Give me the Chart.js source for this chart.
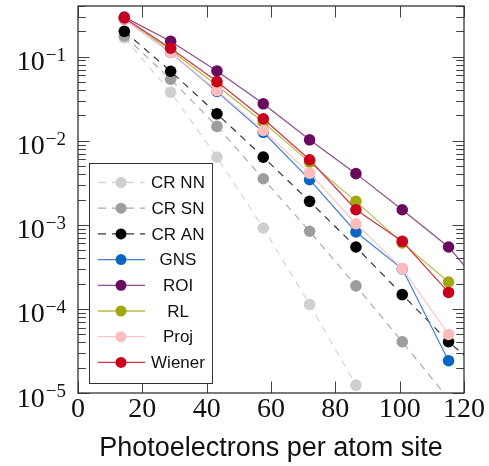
<!DOCTYPE html>
<html>
<head>
<meta charset="utf-8">
<script src="https://cdn.jsdelivr.net/npm/chart.js@4.4.1/dist/chart.umd.min.js"></script>
<style>
  html, body { margin: 0; padding: 0; background: #fff; }
  #wrap { width: 489px; height: 466px; }
</style>
</head>
<body>
<div id="wrap"><canvas id="chart" width="489" height="466"></canvas></div>
<script>
// ------------------------------------------------------------
// Data
// ------------------------------------------------------------
const photoelectrons = [14.4, 28.8, 43.2, 57.6, 72, 86.4, 100.8, 115.2, 129.6];

const crNN   = [0.168, 0.0377, 0.00638, 0.000916, 0.000113, 0.0000124, 0.0000015, null, null];
const crSN   = [0.177, 0.0538, 0.0148, 0.00353, 0.000838, 0.000188, 0.0000407, 0.0000085, null];
const crAN   = [0.200, 0.067, 0.0209, 0.00638, 0.0019, 0.000545, 0.000148, 0.0000407, 0.0000136];
const gns    = [0.280, 0.112, 0.0385, 0.0126, 0.00344, 0.000822, 0.000300, 0.0000242, null];
const roi    = [0.295, 0.152, 0.0676, 0.0275, 0.01025, 0.00406, 0.00151, 0.000545, 0.000121];
const rl     = [0.285, 0.120, 0.0453, 0.0166, 0.00556, 0.0019, 0.00061, 0.000209, null];
const proj   = [0.280, 0.112, 0.0395, 0.01324, 0.00412, 0.00103, 0.000302, 0.0000497, null];
const wiener = [0.288, 0.126, 0.0505, 0.01824, 0.00594, 0.00151, 0.000637, 0.000157, null];

const seriesNames  = ['CR NN', 'CR SN', 'CR AN', 'GNS', 'ROI', 'RL', 'Proj', 'Wiener'];
const seriesValues = [crNN, crSN, crAN, gns, roi, rl, proj, wiener];
const markColors   = ['#cfcfcf', '#9d9d9d', '#000000', '#0a66c2', '#6a0a5f', '#a1a80d', '#ffbcbc', '#c8001e'];
const lineColors   = ['#d6d6d6', '#a9a9a9', '#333333', '#3f82d2', '#8e4b88', '#b6bc45', '#ffc6c6', '#d23445'];
const dashedSeries = [true, true, true, false, false, false, false, false];

const xTicks = [0, 20, 40, 60, 80, 100, 120];
const yTicks = [1e-1, 1e-2, 1e-3, 1e-4, 1e-5];
const yTickExponents = ['\u22121', '\u22122', '\u22123', '\u22124', '\u22125'];
const xTitle = 'Photoelectrons per atom site';

// ------------------------------------------------------------
// Plugins: pgfplots-like frame, labels and legend
// ------------------------------------------------------------
const axisFrame = {
  id: 'axisFrame',
  afterDatasetsDraw(chart) {
    const { ctx, chartArea: a, scales: { x, y } } = chart;
    ctx.save();
    ctx.strokeStyle = '#404040';
    ctx.lineWidth = 1;
    ctx.beginPath();
    xTicks.forEach(v => {
      const px = Math.round(x.getPixelForValue(v)) + 0.5;
      ctx.moveTo(px, a.bottom); ctx.lineTo(px, a.bottom - 11.5);
      ctx.moveTo(px, a.top); ctx.lineTo(px, a.top + 11.5);
    });
    for (let e = -5; e <= 0; e++) {
      for (let m = 1; m <= 9; m++) {
        const v = m * Math.pow(10, e);
        if (v < y.min || v > y.max) continue;
        const py = Math.round(y.getPixelForValue(v)) + 0.5;
        const len = m === 1 ? 11.5 : 7.8;
        ctx.moveTo(a.left, py); ctx.lineTo(a.left + len, py);
        ctx.moveTo(a.right, py); ctx.lineTo(a.right - len, py);
      }
    }
    ctx.stroke();
    ctx.lineWidth = 1.3;
    ctx.strokeStyle = '#333';
    ctx.strokeRect(a.left, a.top, a.right - a.left, a.bottom - a.top);
    ctx.restore();
  },
  afterDraw(chart) {
    const { ctx, chartArea: a, scales: { x, y } } = chart;
    ctx.save();
    ctx.fillStyle = '#111';
    // x tick labels
    ctx.font = '28px "Liberation Serif"';
    ctx.textAlign = 'center';
    ctx.textBaseline = 'alphabetic';
    xTicks.forEach(v => ctx.fillText(String(v), x.getPixelForValue(v), a.bottom + 24));
    // y tick labels 10^k
    yTicks.forEach((v, i) => {
      const py = y.getPixelForValue(v);
      const right = a.left - 12;
      ctx.font = '19px "Liberation Serif"';
      ctx.textAlign = 'right';
      ctx.fillText(yTickExponents[i], right, py + 4);
      const supW = ctx.measureText(yTickExponents[i]).width;
      ctx.font = '28px "Liberation Serif"';
      ctx.fillText('10', right - supW - 1, py + 13.5);
    });
    // axis title
    ctx.font = '27px "Liberation Sans"';
    ctx.textAlign = 'center';
    ctx.fillText(xTitle, (a.left + a.right) / 2, 456);
    ctx.restore();
  }
};

const insetLegend = {
  id: 'insetLegend',
  afterDraw(chart) {
    const { ctx } = chart;
    const box = { left: 89.5, top: 163.5, width: 123, height: 220 };
    ctx.save();
    ctx.fillStyle = '#fff';
    ctx.fillRect(box.left, box.top, box.width, box.height);
    ctx.strokeStyle = '#333';
    ctx.lineWidth = 1;
    ctx.strokeRect(box.left, box.top, box.width, box.height);
    seriesNames.forEach((name, i) => {
      const cy = 182.5 + i * 25.7;
      ctx.strokeStyle = lineColors[i];
      ctx.lineWidth = 1.3;
      ctx.setLineDash(dashedSeries[i] ? [8, 6] : []);
      ctx.beginPath();
      ctx.moveTo(98, cy); ctx.lineTo(145, cy);
      ctx.stroke();
      ctx.setLineDash([]);
      ctx.fillStyle = markColors[i];
      ctx.beginPath();
      ctx.arc(121, cy, 5.5, 0, Math.PI * 2);
      ctx.fill();
      ctx.fillStyle = '#111';
      ctx.font = '17px "Liberation Sans"';
      ctx.textAlign = 'center';
      ctx.textBaseline = 'middle';
      ctx.fillText(name, 178, cy + 1);
    });
    ctx.restore();
  }
};

// ------------------------------------------------------------
// Chart
// ------------------------------------------------------------
const datasets = seriesNames.map((name, i) => ({
  label: name,
  data: photoelectrons.map((p, k) => ({ x: p, y: seriesValues[i][k] })),
  borderColor: lineColors[i],
  backgroundColor: markColors[i],
  pointBackgroundColor: markColors[i],
  pointBorderWidth: 0,
  pointRadius: 5.8,
  borderWidth: 1.2,
  borderDash: dashedSeries[i] ? [7, 6] : [],
  spanGaps: false,
  clip: 0,
  order: seriesNames.length - i
}));

new Chart(document.getElementById('chart'), {
  type: 'line',
  data: { datasets },
  options: {
    responsive: false,
    animation: false,
    devicePixelRatio: 1,
    layout: { padding: { left: 78, right: 25, top: 6, bottom: 73 } },
    plugins: { legend: { display: false }, tooltip: { enabled: false } },
    scales: {
      x: { type: 'linear', min: 0, max: 120, display: false },
      y: { type: 'logarithmic', min: 1e-5, max: 0.4, display: false }
    }
  },
  plugins: [axisFrame, insetLegend]
});
</script>
</body>
</html>
